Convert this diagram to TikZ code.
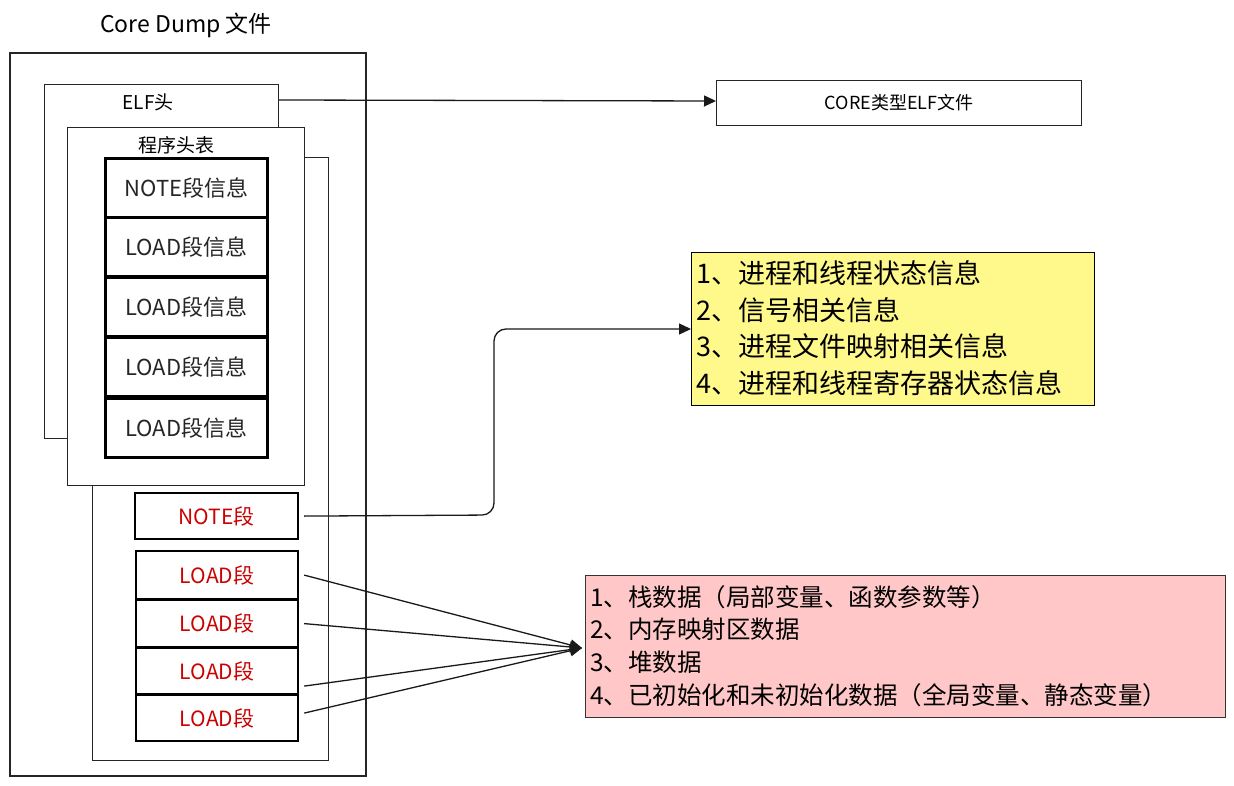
\documentclass[tikz,border=0pt]{standalone}
\usepackage{fontspec}
\setmainfont{Noto Sans CJK SC}
\usetikzlibrary{arrows.meta}
\begin{document}
\begin{tikzpicture}[x=1pt,y=-1pt,
  thin box/.style={draw=black!85,line width=1.2pt,fill=white},
  seg/.style={draw=black,line width=2.6pt,fill=white,font=\fontsize{22}{26}\selectfont,text=black!85},
  red seg/.style={draw=black,line width=2.2pt,fill=white,font=\fontsize{21}{24}\selectfont,text=red!80!black},
  arr/.style={-{Triangle[length=12pt,width=11pt]},line width=1.3pt,draw=black!90}]
\useasboundingbox (0,0) rectangle (1234,786);
\node (title) at (186,25) {\fontsize{23}{27}\selectfont Core Dump 文件};
\draw[thin box] (10,53) rectangle (366,776);
\node[thin box,minimum width=234pt,minimum height=354pt,anchor=north west] (elf) at (44,84) {};
\node[font=\fontsize{19}{22}\selectfont] (elft) at (148,102) {ELF头};
\node[thin box,minimum width=236pt,minimum height=603pt,anchor=north west] (inner) at (92,157) {};
\node[thin box,minimum width=237pt,minimum height=358pt,anchor=north west] (pht) at (67,127) {};
\node[font=\fontsize{19}{22}\selectfont] (phtt) at (176,145) {程序头表};
\foreach \n/\y/\t in {s1/157/NOTE段信息,s2/216/LOAD段信息,s3/276/LOAD段信息,s4/336/LOAD段信息,s5/397/LOAD段信息}
  \node[seg,minimum width=162pt,minimum height=59pt,anchor=north west] (\n) at (104,\y) {\t};
\node[red seg,minimum width=163pt,minimum height=46pt,anchor=north west] (note) at (134,492) {NOTE段};
\foreach \n/\y/\h in {l1/550/48,l2/599/47,l3/647/46,l4/694/46}
  \node[red seg,minimum width=162pt,minimum height=\h pt,anchor=north west] (\n) at (135,\y) {LOAD段};
\node[thin box,minimum width=365pt,minimum height=45pt,anchor=north west,font=\fontsize{18}{21}\selectfont] (core) at (716,80) {CORE类型ELF文件};
\node[draw=black,line width=1.2pt,fill=yellow!45!white,minimum width=403pt,minimum height=153pt,anchor=north west] (yel) at (691,252) {};
\node[anchor=west,align=left,font=\fontsize{27}{36.5}\selectfont,inner sep=0pt] (yelt) at (696,328) {1、进程和线程状态信息\\2、信号相关信息\\3、进程文件映射相关信息\\4、进程和线程寄存器状态信息};
\node[draw=black!80,line width=1pt,fill=red!22!white,minimum width=640pt,minimum height=142pt,anchor=north west] (pink) at (585,575) {};
\node[anchor=west,align=left,font=\fontsize{24.5}{32.7}\selectfont,inner sep=0pt] (pinkt) at (590,646) {1、栈数据（局部变量、函数参数等）\\2、内存映射区数据\\3、堆数据\\4、已初始化和未初始化数据（全局变量、静态变量）};
\draw[arr] (elf.east |- 0,100) -- (core.west |- 0,101);
\draw[arr,rounded corners=12pt] ([xshift=5pt]note.east) -- (494,515) -- (494,329) -- (yel.west |- 0,329);
\coordinate (tip) at (582,648);
\draw[arr] ([xshift=5pt]l1.east) -- (tip);
\draw[arr] ([xshift=5pt]l2.east) -- (tip);
\draw[arr] ([xshift=5pt,yshift=-15pt]l3.east) -- (tip);
\draw[arr] ([xshift=5pt,yshift=5pt]l4.east) -- (tip);
\end{tikzpicture}
\end{document}
